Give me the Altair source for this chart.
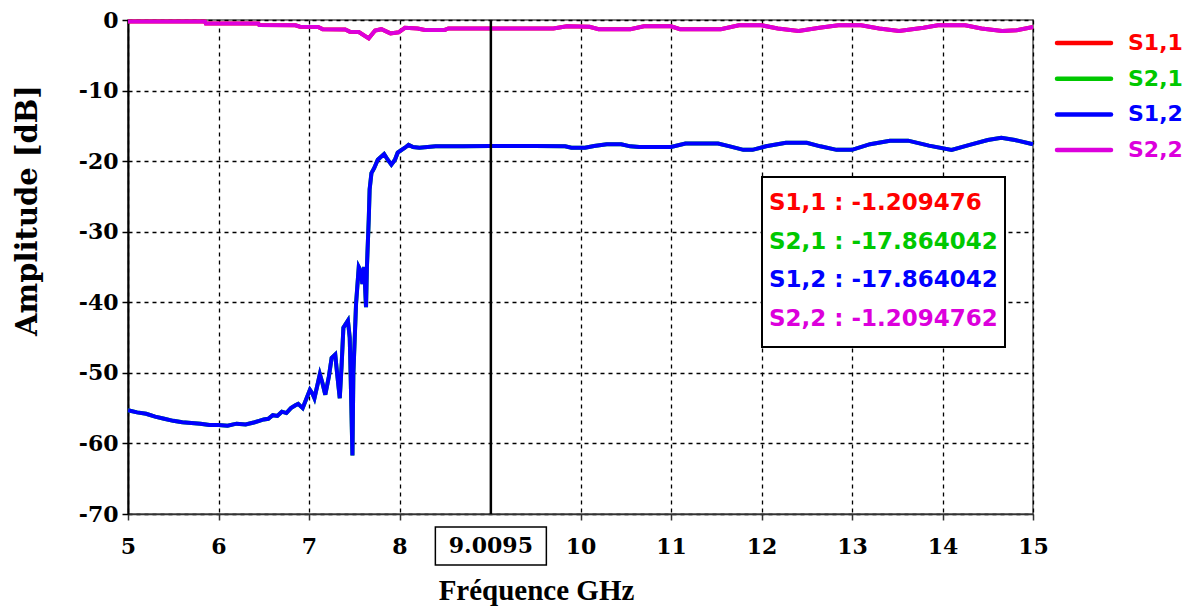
import altair as alt
import pandas as pd

# ---- data ----
series_names = ["S1,1", "S2,1", "S1,2", "S2,2"]
series_colors = ["#FF0000", "#00C800", "#0000FF", "#DC00DC"]

# S1,2 (blue) — transmission-like curve; S2,1 identical (hidden under it)
f_trans = [5.00, 5.10, 5.20, 5.30, 5.40, 5.50, 5.60, 5.70, 5.80, 5.90,
           6.00, 6.10, 6.20, 6.30, 6.40, 6.45, 6.50, 6.55, 6.60, 6.65,
           6.70, 6.75, 6.80, 6.85, 6.88, 6.93, 7.01, 7.04, 7.06, 7.12,
           7.15, 7.18, 7.22, 7.25, 7.29, 7.31, 7.34, 7.36, 7.38, 7.43,
           7.45, 7.46, 7.48, 7.49, 7.52, 7.55, 7.57, 7.59, 7.61, 7.63,
           7.64, 7.66, 7.67, 7.69, 7.72, 7.76, 7.83, 7.87, 7.91, 7.95,
           7.98, 8.06, 8.10, 8.15, 8.22, 8.40, 8.70, 9.00, 9.50, 9.83,
           9.90, 10.05, 10.15, 10.29, 10.45, 10.55, 10.65, 11.00, 11.16, 11.52,
           11.65, 11.80, 11.90, 12.05, 12.27, 12.50, 12.65, 12.83, 13.00, 13.20,
           13.42, 13.62, 13.85, 14.10, 14.30, 14.50, 14.65, 14.80, 15.00]
v_trans = [-55.3, -55.6, -55.8, -56.2, -56.5, -56.8, -57.0, -57.1, -57.2, -57.4,
           -57.4, -57.5, -57.2, -57.3, -57.0, -56.8, -56.6, -56.5, -56.0, -56.1,
           -55.5, -55.7, -55.0, -54.6, -54.4, -55.0, -52.4, -53.0, -53.6, -50.2,
           -51.5, -53.1, -50.5, -47.9, -47.4, -50.0, -53.6, -49.0, -43.6, -42.6,
           -45.0, -50.2, -61.7, -50.2, -40.2, -35.0, -35.5, -37.4, -35.0, -40.7,
           -35.0, -28.3, -24.0, -21.7, -21.0, -19.8, -19.0, -19.8, -20.5, -19.8,
           -18.8, -18.1, -17.7, -18.0, -18.1, -17.9, -17.9, -17.86, -17.86, -17.9,
           -18.1, -18.1, -17.85, -17.6, -17.6, -17.9, -18.0, -18.0, -17.5, -17.5,
           -17.9, -18.4, -18.4, -17.9, -17.4, -17.4, -17.9, -18.4, -18.4, -17.6,
           -17.1, -17.1, -17.8, -18.4, -17.7, -17.0, -16.7, -17.0, -17.6]

# S2,2 (magenta) — reflection-like curve; S1,1 identical (hidden under it)
f_refl = [5.00, 5.85, 5.86, 6.44, 6.45, 6.85, 6.90, 7.10, 7.15, 7.40,
          7.45, 7.55, 7.66, 7.73, 7.80, 7.90, 7.99, 8.06, 8.20, 8.28,
          8.50, 8.54, 9.50, 9.70, 9.85, 10.10, 10.20, 10.55, 10.70, 11.00,
          11.10, 11.55, 11.75, 12.00, 12.18, 12.41, 12.64, 12.85, 13.10, 13.30,
          13.52, 13.79, 13.95, 14.25, 14.43, 14.66, 14.82, 15.00]
v_refl = [-0.2, -0.2, -0.5, -0.5, -0.7, -0.75, -0.95, -1.0, -1.3, -1.35,
          -1.65, -1.7, -2.6, -1.5, -1.3, -1.9, -1.75, -1.1, -1.2, -1.4,
          -1.4, -1.2, -1.2, -1.2, -0.9, -0.95, -1.3, -1.3, -0.9, -0.9,
          -1.3, -1.3, -0.75, -0.75, -1.2, -1.55, -1.1, -0.75, -0.75, -1.2,
          -1.55, -1.1, -0.75, -0.75, -1.2, -1.55, -1.45, -1.0]

marker_freq = 9.0095
marker_label = "9.0095"
readout_texts = ["S1,1 : -1.209476", "S2,1 : -17.864042",
                 "S1,2 : -17.864042", "S2,2 : -1.2094762"]

x_ticks = [5, 6, 7, 8, 10, 11, 12, 13, 14, 15]
y_ticks = [0, -10, -20, -30, -40, -50, -60, -70]

# ---- build tables ----
rows = []
for name in series_names:
    if name in ("S1,1", "S2,2"):
        fx, vy = f_refl, v_refl
    else:
        fx, vy = f_trans, v_trans
    for a, b in zip(fx, vy):
        rows.append({"series": name, "freq": a, "amp": b})
df = pd.DataFrame(rows)

W, H = 905, 494
TICK_FONT = "DejaVu Serif"
SANS = "DejaVu Sans"

xscale = alt.Scale(domain=[5, 15], nice=False)
yscale = alt.Scale(domain=[-70, 0], nice=False)
cscale = alt.Scale(domain=series_names, range=series_colors)

x_axis = alt.Axis(values=x_ticks, title="Fréquence GHz", grid=True,
                  labelExpr="'' + datum.value", labelFlush=False,
                  gridDash=[4, 4], gridColor="black", gridWidth=1.3, gridOpacity=1,
                  domainColor="#333333", domainWidth=1.5, tickColor="#333333",
                  tickSize=6, tickWidth=1.5, labelFont=TICK_FONT, labelFontWeight="bold",
                  labelFontSize=22, labelColor="black", labelPadding=16,
                  titleFont="Liberation Serif", titleFontWeight="bold", titleFontSize=29,
                  titleColor="black", titleX=408, titleY=76, titleAnchor="middle",
                  titleAlign="center", titleBaseline="middle")
y_axis = alt.Axis(values=y_ticks, title="Amplitude [dB]", grid=True,
                  labelExpr="'' + datum.value", labelFlush=False,
                  gridDash=[4, 4], gridColor="black", gridWidth=1.3, gridOpacity=1,
                  domainColor="black", domainWidth=2, tickColor="black",
                  tickSize=6, tickWidth=1.5, labelFont=TICK_FONT, labelFontWeight="bold",
                  labelFontSize=22, labelColor="black", labelPadding=4,
                  titleFont=TICK_FONT, titleFontWeight="bold", titleFontSize=29,
                  titleColor="black", titleX=-101, titleY=190, titleAngle=-90,
                  titleAlign="center", titleBaseline="middle")

layers = []
for i, name in enumerate(series_names):
    layers.append(
        alt.Chart(df).transform_filter(alt.datum.series == name)
        .mark_line(strokeWidth=4)
        .encode(x=alt.X("freq:Q", scale=xscale, axis=x_axis),
                y=alt.Y("amp:Q", scale=yscale, axis=y_axis),
                color=alt.Color("series:N", scale=cscale, legend=None))
    )

# legend (drawn to the right of the plot)
leg = pd.DataFrame({"series": series_names})
legend_layers = []
for k, (name, col) in enumerate(zip(series_names, series_colors)):
    yk = 23 + 35.7 * k
    legend_layers.append(
        alt.Chart(leg).transform_filter(alt.datum.series == name)
        .mark_rule(color=col, strokeWidth=4.5, strokeCap="round")
        .encode(x=alt.value(929), x2=alt.value(983), y=alt.value(yk))
    )
    legend_layers.append(
        alt.Chart(leg).transform_filter(alt.datum.series == name)
        .mark_text(font=SANS, fontWeight="bold", fontSize=22, color=col,
                   align="left", baseline="middle")
        .encode(x=alt.value(1000), y=alt.value(yk), text="series:N")
    )

mk = pd.DataFrame({"freq": [marker_freq], "label": [marker_label]})
marker_rule = alt.Chart(mk).mark_rule(color="black", strokeWidth=2.5).encode(x="freq:Q")
half_w = 55.5 * 10 / W  # half width of label box in GHz
marker_box = (alt.Chart(mk)
              .transform_calculate(x0=f"datum.freq - {half_w}", x1=f"datum.freq + {half_w}")
              .mark_rect(fill="white", stroke="black", strokeWidth=1.5)
              .encode(x="x0:Q", x2="x1:Q", y=alt.value(H + 13), y2=alt.value(H + 51)))
marker_text = (alt.Chart(mk).mark_text(font=TICK_FONT, fontWeight="bold", fontSize=22,
                                       color="black", baseline="middle", align="center")
               .encode(x="freq:Q", y=alt.value(H + 32), text="label:N"))

ann = pd.DataFrame({"t": readout_texts, "series": series_names})
box = alt.Chart(mk).mark_rect(fill="white", stroke="black", strokeWidth=2).encode(
    x=alt.value(634), x2=alt.value(877), y=alt.value(157), y2=alt.value(327))
ann_layers = []
for k, (txt, col) in enumerate(zip(readout_texts, series_colors)):
    ann_layers.append(
        alt.Chart(ann).transform_filter(alt.datum.t == txt)
        .mark_text(font=SANS, fontWeight="bold", fontSize=23, color=col,
                   align="left", baseline="middle")
        .encode(x=alt.value(641), y=alt.value(183 + k * 38.5), text="t:N")
    )

chart = alt.layer(*layers, marker_rule, marker_box, marker_text, box, *ann_layers,
                  *legend_layers).properties(
    width=W, height=H,
    autosize=alt.AutoSizeParams(type="none"),
    padding={"left": 120, "top": 12, "right": 150, "bottom": 92},
    background="white",
).configure_view(stroke="#555555", strokeWidth=1.5)

chart.save("out.html", embed_options={"renderer": "svg", "actions": False})
